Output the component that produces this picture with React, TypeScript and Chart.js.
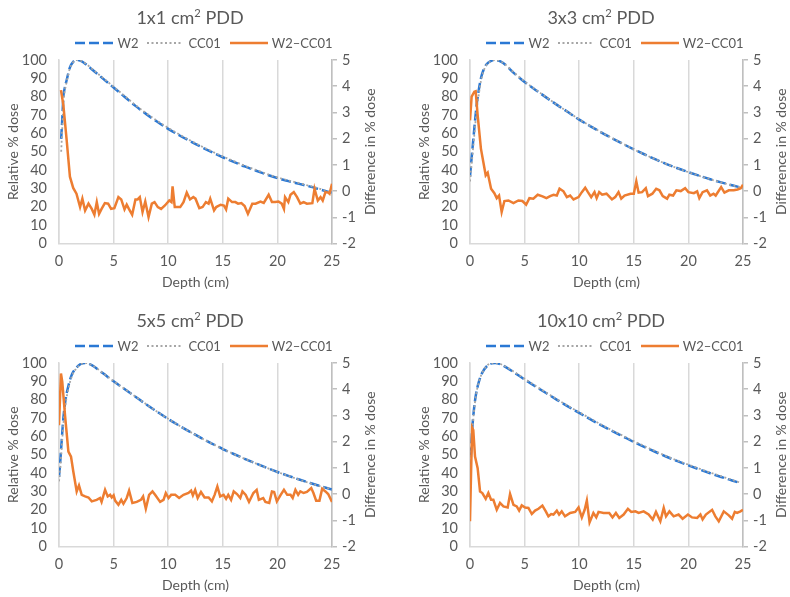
import React, { useEffect, useRef } from "react";
import { Chart, registerables } from "chart.js";
Chart.register(...registerables);

const FONT = "Lato, 'Open Sans', sans-serif";
const TEXT = "#595959";
const BLUE = "#2a78d4";
const GRAY = "#a6a6a6";
const ORANGE = "#ed7d31";

// ---- tick labels / names ----
const depthTicks = [0, 5, 10, 15, 20, 25];
const doseTicks = [0, 10, 20, 30, 40, 50, 60, 70, 80, 90, 100];
const diffTicks = [-2, -1, 0, 1, 2, 3, 4, 5];
const seriesNames = ["W2", "CC01", "W2\u2013CC01"];
const fieldSizes = ["1x1", "3x3", "5x5", "10x10"];

// ---- 1x1 ----
const pddDepth1 = [0.2, 0.3, 0.4, 0.5, 0.7, 1, 1.3, 1.6, 2, 2.5, 3, 3.5, 4, 5, 6, 7, 8, 9, 10, 11, 12, 13, 14, 15, 16, 17, 18, 19, 20, 21, 22, 23, 24, 25];
const w2_1x1 = [57, 68, 80, 84, 89, 96, 99, 100, 99.5, 97.5, 95, 92.5, 90, 85, 80, 75, 70.5, 66.3, 62.5, 59, 55.8, 52.7, 49.8, 47, 44.5, 42, 39.8, 37.6, 35.6, 34, 32.5, 31, 29.3, 27.6];
const cc01_1x1 = [50, 63, 76, 82, 88, 95.5, 98.8, 100, 99.6, 97.8, 95.3, 92.8, 90.4, 85.4, 80.5, 75.4, 71, 66.8, 63, 59.5, 56.2, 53.1, 50.2, 47.4, 44.9, 42.4, 40.2, 38, 36, 34.4, 32.9, 31.3, 29.6, 27.5];
const diffDepth1 = [0.18, 0.4, 0.7, 1.0, 1.3, 1.6, 1.93, 2.14, 2.39, 2.7, 3.0, 3.24, 3.46, 3.67, 3.9, 4.2, 4.5, 4.77, 5.07, 5.44, 5.7, 6.0, 6.2, 6.4, 6.7, 7.0, 7.2, 7.4, 7.65, 7.9, 8.2, 8.5, 8.75, 9.05, 9.35, 9.7, 10.1, 10.3, 10.4, 10.6, 11.1, 11.4, 11.7, 12.0, 12.3, 12.5, 12.85, 13.15, 13.45, 13.7, 13.85, 14.2, 14.4, 14.8, 15.1, 15.3, 15.5, 15.85, 16.15, 16.4, 16.7, 17.0, 17.3, 17.7, 18.0, 18.45, 18.75, 19.2, 19.5, 19.8, 20.1, 20.4, 20.6, 20.7, 21.0, 21.2, 21.5, 21.8, 22.1, 22.4, 22.7, 23.2, 23.4, 23.7, 23.95, 24.15, 24.4, 24.65, 24.77, 25.0];
const diff_1x1 = [3.85, 3.28, 1.95, 0.55, 0.12, -0.1, -0.61, -0.29, -0.74, -0.48, -0.68, -0.9, -0.42, -0.87, -0.68, -0.46, -0.48, -0.68, -0.65, -0.23, -0.32, -0.7, -0.52, -0.68, -0.9, -0.32, -0.32, -0.23, -0.8, -0.4, -0.99, -0.48, -0.42, -0.61, -0.68, -0.55, -0.36, -0.42, 0.18, -0.61, -0.61, -0.42, -0.06, -0.32, -0.23, -0.29, -0.65, -0.61, -0.42, -0.48, -0.29, -0.74, -0.61, -0.52, -0.55, -0.7, -0.29, -0.42, -0.42, -0.48, -0.46, -0.57, -0.87, -0.48, -0.48, -0.4, -0.45, -0.14, -0.42, -0.42, -0.4, -0.48, -0.68, -0.23, -0.42, -0.14, -0.04, -0.23, -0.48, -0.42, -0.48, -0.46, 0.09, -0.36, -0.23, -0.36, -0.04, -0.06, -0.1, 0.28];

// ---- 3x3 ----
const pddDepth3 = [0, 0.2, 0.4, 0.6, 0.8, 1, 1.2, 1.5, 2, 2.3, 3, 4, 5, 6, 7, 8, 9, 10, 11, 12, 13, 14, 15, 16, 17, 18, 19, 20, 21, 22, 23, 24, 25];
const w2_3x3 = [36.5, 50, 63, 75, 83.5, 90, 94, 97.5, 99.7, 100, 98.5, 93, 88, 83.7, 79.5, 75.4, 71.5, 67.5, 64, 60.6, 57.4, 54.3, 51.3, 48.5, 45.8, 43.3, 41, 38.9, 36.9, 35, 33.3, 31.7, 30.2];
const cc01_3x3 = [33.8, 46.5, 59.5, 72, 81, 88.5, 93.2, 97.2, 99.6, 100, 98.6, 93.3, 88.3, 83.9, 79.7, 75.5, 71.6, 67.7, 64.1, 60.7, 57.5, 54.4, 51.3, 48.5, 45.8, 43.3, 41, 38.9, 36.9, 35, 33.3, 31.7, 30.1];
const diffDepth3 = [0, 0.15, 0.4, 0.52, 0.7, 1.0, 1.22, 1.44, 1.62, 1.93, 2.23, 2.45, 2.66, 2.9, 3.15, 3.52, 3.98, 4.43, 4.8, 5.14, 5.44, 5.8, 6.2, 6.64, 7.0, 7.34, 7.65, 7.95, 8.2, 8.56, 8.87, 9.17, 9.48, 9.94, 10.24, 10.55, 10.8, 11.1, 11.4, 11.6, 11.83, 12.1, 12.5, 13.0, 13.3, 13.6, 13.85, 14.15, 14.7, 15.0, 15.23, 15.44, 15.76, 16.1, 16.3, 16.7, 17.05, 17.35, 17.65, 18.05, 18.26, 18.6, 18.9, 19.3, 19.7, 20.0, 20.5, 20.8, 21.0, 21.3, 21.7, 22.0, 22.3, 22.5, 23.0, 23.3, 23.7, 24.15, 24.5, 24.8, 25.0];
const diff_3x3 = [2.7, 3.6, 3.79, 3.81, 2.9, 1.62, 1.11, 0.6, 0.7, 0.09, -0.08, -0.27, -0.17, -0.8, -0.38, -0.36, -0.46, -0.36, -0.38, -0.52, -0.27, -0.29, -0.14, -0.2, -0.27, -0.19, -0.14, -0.17, 0.09, -0.01, -0.23, -0.17, -0.32, -0.23, -0.04, 0.13, -0.04, -0.23, -0.04, -0.27, -0.04, -0.14, -0.1, -0.32, -0.23, -0.04, -0.29, -0.17, -0.1, -0.1, 0.37, -0.06, -0.04, 0.11, -0.19, -0.1, 0.09, 0.03, -0.19, -0.29, -0.14, -0.17, 0.03, 0, 0.11, -0.04, -0.08, -0.01, -0.27, -0.04, 0.03, -0.17, -0.1, -0.17, 0.15, -0.06, 0.03, 0.03, 0.06, 0.11, 0.24];

// ---- 5x5 ----
const pddDepth5 = [0, 0.1, 0.25, 0.4, 0.6, 0.9, 1.2, 1.6, 2, 2.4, 3, 4, 5, 6, 7, 8, 9, 10, 11, 12, 13, 14, 15, 16, 17, 18, 19, 20, 21, 22, 23, 24, 25];
const w2_5x5 = [38, 45, 58, 70, 80, 88.5, 94, 97.5, 99.5, 100, 98.8, 94.5, 90, 85.8, 81.6, 77.4, 73.4, 69.5, 65.9, 62.5, 59.2, 56.1, 53.1, 50.4, 47.8, 45.3, 42.9, 40.6, 38.5, 36.5, 34.6, 32.8, 31];
const cc01_5x5 = [35.5, 41, 54, 66.5, 77.5, 87, 93.2, 97.1, 99.4, 100, 98.9, 94.6, 90.1, 85.9, 81.7, 77.5, 73.4, 69.6, 65.9, 62.5, 59.2, 56.1, 53.2, 50.4, 47.8, 45.3, 42.9, 40.6, 38.5, 36.4, 34.5, 32.7, 31.1];
const diffDepth5 = [0, 0.18, 0.3, 0.55, 0.86, 1.1, 1.31, 1.62, 1.83, 2.08, 2.39, 2.7, 3.0, 3.45, 3.76, 3.9, 4.22, 4.46, 4.68, 4.83, 5.0, 5.14, 5.44, 5.7, 5.9, 6.2, 6.42, 6.72, 7.12, 7.5, 7.7, 7.95, 8.25, 8.56, 8.8, 9.26, 9.57, 9.78, 10.03, 10.27, 10.64, 11.0, 11.4, 11.86, 12.1, 12.26, 12.47, 12.7, 13.0, 13.33, 13.7, 14.0, 14.25, 14.5, 14.76, 15.07, 15.3, 15.5, 15.76, 16.0, 16.3, 16.6, 16.8, 17.1, 17.4, 17.8, 18.1, 18.3, 18.7, 18.9, 19.25, 19.5, 19.7, 19.95, 20.3, 20.6, 20.9, 21.2, 21.4, 21.65, 21.9, 22.1, 22.4, 22.7, 23.1, 23.3, 23.55, 23.85, 24.1, 24.4, 24.65, 25.0];
const diff_5x5 = [2.63, 4.6, 4.28, 3.01, 1.62, 1.43, 0.86, 0.1, 0.33, -0.03, -0.09, -0.13, -0.28, -0.22, -0.15, -0.3, 0.16, -0.09, -0.03, -0.13, -0.05, -0.25, -0.41, -0.22, -0.37, -0.15, 0.13, -0.34, -0.3, -0.22, -0.09, -0.56, -0.03, 0.1, -0.03, -0.3, -0.22, 0.04, -0.15, -0.03, -0.03, -0.15, -0.03, 0.04, 0.13, -0.05, 0.16, -0.15, 0.08, -0.13, -0.13, -0.28, -0.03, 0.29, -0.09, -0.03, -0.18, -0.03, -0.22, 0.1, 0, -0.15, 0.1, -0.03, -0.3, 0.04, 0.16, -0.22, -0.15, -0.3, -0.34, 0.1, 0.08, -0.28, -0.03, 0.16, -0.03, -0.03, -0.15, 0.16, -0.03, 0.1, 0.04, 0.08, 0.23, 0.04, -0.25, -0.25, 0.2, 0.1, 0, -0.3];

// ---- 10x10 ----
const pddDepth10 = [0, 0.1, 0.2, 0.35, 0.55, 0.85, 1.15, 1.6, 2, 2.3, 3, 4, 5, 6, 7, 8, 9, 10, 11, 12, 13, 14, 15, 16, 17, 18, 19, 20, 21, 22, 23, 24, 24.8];
const w2_10x10 = [41, 52, 63.5, 74, 83, 90.5, 95, 98.6, 99.8, 100, 98.7, 95, 91, 87.2, 83.5, 79.8, 76.2, 72.8, 69.4, 66.1, 63, 60, 57, 54.2, 51.5, 48.9, 46.5, 44.2, 42, 39.9, 37.9, 36, 34.5];
const cc01_10x10 = [41.5, 50.5, 61.5, 72.8, 82.5, 90.4, 95.1, 98.8, 100, 100, 98.9, 95.3, 91.4, 87.6, 83.8, 80.1, 76.5, 73.2, 69.8, 66.5, 63.3, 60.4, 57.4, 54.6, 51.9, 49.2, 46.8, 44.6, 42.4, 40.3, 38.3, 36.3, 34.7];
const diffDepth10 = [0, 0.1, 0.2, 0.3, 0.46, 0.7, 0.92, 1.13, 1.44, 1.68, 1.93, 2.14, 2.45, 2.75, 3.06, 3.45, 3.67, 3.98, 4.28, 4.5, 4.74, 5.05, 5.35, 5.66, 5.96, 6.27, 6.63, 6.94, 7.18, 7.43, 7.64, 7.95, 8.16, 8.4, 8.7, 9.17, 9.63, 9.94, 10.24, 10.5, 10.7, 10.95, 11.3, 11.56, 11.77, 12.23, 12.75, 13.05, 13.36, 13.67, 14.07, 14.46, 14.77, 15.14, 15.44, 15.9, 16.36, 16.73, 17.03, 17.43, 17.74, 17.95, 18.26, 18.65, 19.1, 19.47, 19.96, 20.33, 20.8, 21.1, 21.3, 21.6, 22.17, 22.47, 22.78, 23.24, 23.7, 24.0, 24.25, 24.46, 24.77, 25.0];
const diff_10x10 = [-1.04, 0.86, 2.53, 2.44, 1.43, 0.99, 0.1, 0.04, -0.18, 0.04, -0.22, -0.22, -0.6, -0.34, -0.47, -0.51, 0, -0.41, -0.47, -0.63, -0.43, -0.51, -0.53, -0.76, -0.63, -0.56, -0.44, -0.66, -0.85, -0.76, -0.78, -0.63, -0.78, -0.66, -0.85, -0.72, -0.68, -0.51, -0.89, -0.6, -0.25, -1.08, -0.72, -0.89, -0.68, -0.72, -0.72, -0.89, -0.72, -0.91, -0.78, -0.56, -0.68, -0.66, -0.72, -0.66, -0.78, -0.97, -0.68, -1.04, -0.53, -0.85, -0.66, -0.85, -0.78, -0.94, -0.78, -0.89, -0.91, -0.78, -0.97, -0.78, -0.6, -0.85, -1.04, -0.66, -0.81, -0.94, -0.68, -0.72, -0.66, -0.6];

// ---- layout (not data) ----
const CANVAS_W = 379;
const CANVAS_H = 294;
const PLOT_LEFT = 59;
const PLOT_W = 273;
const PLOT_TOP = 60;
const PLOT_H = 183.5;

const pts = (xs: number[], ys: number[]) => xs.map((x, i) => ({ x, y: ys[i] }));
const setTicks = (arr: number[]) => (scale: any) => {
  scale.ticks = arr.map((v) => ({ value: v }));
};

const rightTitlePlugin = {
  id: "rightTitle",
  afterDraw(chart: any, _args: any, opts: any) {
    const { ctx, chartArea } = chart;
    ctx.save();
    ctx.translate(chartArea.right + opts.offset, (chartArea.top + chartArea.bottom) / 2);
    ctx.rotate(-Math.PI / 2);
    ctx.textAlign = "center";
    ctx.textBaseline = "middle";
    ctx.font = `14px ${FONT}`;
    ctx.fillStyle = TEXT;
    ctx.fillText(opts.text, 0, 0);
    ctx.restore();
  },
};

type PanelProps = {
  left: number;
  top: number;
  size: string;
  pddDepth: number[];
  w2: number[];
  cc01: number[];
  diffDepth: number[];
  diff: number[];
};

function Panel(p: PanelProps) {
  const ref = useRef<HTMLCanvasElement>(null);
  useEffect(() => {
    const tickFont = { family: FONT, size: 14.5 };
    const chart = new Chart(ref.current as HTMLCanvasElement, {
      type: "line",
      data: {
        datasets: [
          {
            label: seriesNames[0],
            data: pts(p.pddDepth, p.w2),
            yAxisID: "y",
            borderColor: BLUE,
            borderWidth: 2.5,
            borderDash: [10, 4],
            pointRadius: 0,
            cubicInterpolationMode: "monotone",
            fill: false,
            order: 3,
          },
          {
            label: seriesNames[1],
            data: pts(p.pddDepth, p.cc01),
            yAxisID: "y",
            borderColor: GRAY,
            borderWidth: 1.8,
            borderDash: [2, 2.5],
            pointRadius: 0,
            cubicInterpolationMode: "monotone",
            fill: false,
            order: 2,
          },
          {
            label: seriesNames[2],
            data: pts(p.diffDepth, p.diff),
            yAxisID: "y2",
            borderColor: ORANGE,
            borderWidth: 2.5,
            pointRadius: 0,
            tension: 0,
            fill: false,
            order: 1,
          },
        ],
      } as any,
      options: {
        animation: false,
        responsive: false,
        devicePixelRatio: 1,
        layout: { padding: { top: PLOT_TOP, left: 0, right: 0, bottom: 0 } },
        plugins: {
          legend: { display: false },
          tooltip: { enabled: false },
          rightTitle: { text: "Difference in % dose", offset: 38 },
        } as any,
        scales: {
          x: {
            type: "linear",
            position: "bottom",
            min: 0,
            max: 25,
            afterBuildTicks: setTicks(depthTicks),
            afterFit: (s: any) => {
              s.height = CANVAS_H - PLOT_TOP - PLOT_H;
            },
            grid: { color: "#d9d9d9", lineWidth: 1.5, drawTicks: false },
            border: { display: true, color: "#d9d9d9", width: 1.5 },
            ticks: { color: TEXT, font: tickFont, padding: 9, maxRotation: 0, autoSkip: false },
            title: {
              display: true,
              text: "Depth (cm)",
              color: TEXT,
              font: { family: FONT, size: 14 },
              padding: { top: 0, bottom: 3 },
            },
          },
          y: {
            type: "linear",
            position: "left",
            min: 0,
            max: 100,
            afterBuildTicks: setTicks(doseTicks),
            afterFit: (s: any) => {
              s.width = PLOT_LEFT;
            },
            grid: { display: false },
            border: { display: true, color: "#d9d9d9", width: 1.5 },
            ticks: { color: TEXT, font: tickFont, padding: 4, autoSkip: false },
            title: {
              display: true,
              text: "Relative % dose",
              color: TEXT,
              font: { family: FONT, size: 14 },
              padding: { top: 5, bottom: 0 },
            },
          },
          y2: {
            type: "linear",
            position: "right",
            min: -2,
            max: 5,
            afterBuildTicks: setTicks(diffTicks),
            afterFit: (s: any) => {
              s.width = CANVAS_W - PLOT_LEFT - PLOT_W;
            },
            grid: { drawOnChartArea: false, drawTicks: true, tickLength: 5, color: "#bfbfbf", lineWidth: 1.5 },
            border: { display: true, color: "#bfbfbf", width: 1.5 },
            ticks: { color: TEXT, font: tickFont, padding: 5, autoSkip: false },
          },
        },
      } as any,
      plugins: [rightTitlePlugin],
    });
    return () => chart.destroy();
  }, []);

  const legendText = { font: `13px ${FONT}`, color: TEXT, whiteSpace: "nowrap" as const };
  return (
    <div style={{ position: "absolute", left: p.left, top: p.top, width: CANVAS_W, height: CANVAS_H }}>
      <canvas
        ref={ref}
        width={CANVAS_W}
        height={CANVAS_H}
        style={{ position: "absolute", left: 0, top: 0, width: CANVAS_W, height: CANVAS_H, display: "block" }}
      />
      <div
        style={{
          position: "absolute",
          left: 0,
          top: 6,
          width: 380,
          textAlign: "center",
          font: `18px ${FONT}`,
          lineHeight: "22px",
          color: TEXT,
          whiteSpace: "nowrap",
        }}
      >
        {p.size} cm<sup style={{ fontSize: "0.62em", lineHeight: 0, verticalAlign: "super" }}>2</sup> PDD
      </div>
      <div
        style={{
          position: "absolute",
          left: 0,
          top: 35,
          width: 408,
          height: 16,
          display: "flex",
          justifyContent: "center",
          alignItems: "center",
        }}
      >
        <svg width={38} height={8} style={{ marginRight: 4 }}>
          <line x1={0} y1={4} x2={38} y2={4} stroke={BLUE} strokeWidth={2.5} strokeDasharray="10 4" />
        </svg>
        <span style={{ ...legendText, marginRight: 9 }}>{seriesNames[0]}</span>
        <svg width={35} height={8} style={{ marginRight: 6 }}>
          <line x1={0} y1={4} x2={35} y2={4} stroke={GRAY} strokeWidth={1.8} strokeDasharray="2 2.5" />
        </svg>
        <span style={{ ...legendText, marginRight: 9 }}>{seriesNames[1]}</span>
        <svg width={38} height={8} style={{ marginRight: 4 }}>
          <line x1={0} y1={4} x2={38} y2={4} stroke={ORANGE} strokeWidth={2.5} />
        </svg>
        <span style={legendText}>{seriesNames[2]}</span>
      </div>
    </div>
  );
}

export default function App() {
  return (
    <div
      style={{
        position: "absolute",
        left: 0,
        top: 0,
        width: 790,
        height: 597,
        overflow: "hidden",
        background: "#ffffff",
      }}
    >
      <Panel left={0} top={0} size={fieldSizes[0]} pddDepth={pddDepth1} w2={w2_1x1} cc01={cc01_1x1} diffDepth={diffDepth1} diff={diff_1x1} />
      <Panel left={411} top={0} size={fieldSizes[1]} pddDepth={pddDepth3} w2={w2_3x3} cc01={cc01_3x3} diffDepth={diffDepth3} diff={diff_3x3} />
      <Panel left={0} top={303} size={fieldSizes[2]} pddDepth={pddDepth5} w2={w2_5x5} cc01={cc01_5x5} diffDepth={diffDepth5} diff={diff_5x5} />
      <Panel left={411} top={303} size={fieldSizes[3]} pddDepth={pddDepth10} w2={w2_10x10} cc01={cc01_10x10} diffDepth={diffDepth10} diff={diff_10x10} />
    </div>
  );
}
